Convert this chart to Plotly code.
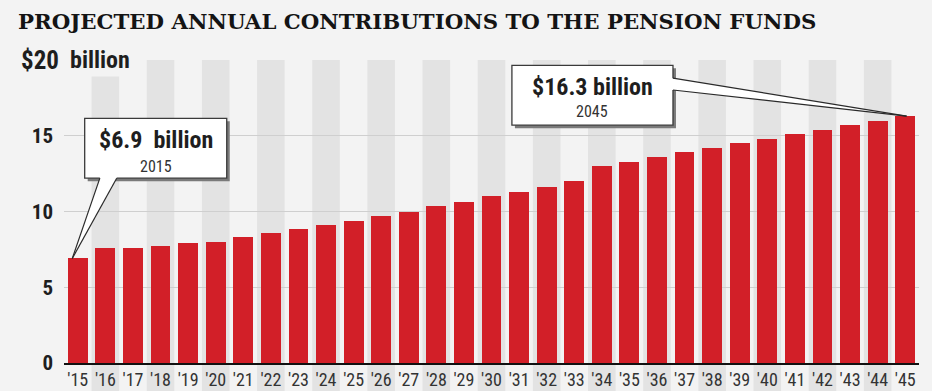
import plotly.graph_objects as go

# ---- data -------------------------------------------------------------
years = list(range(2015, 2046))
contributions = [
    6.9, 7.6, 7.58, 7.75, 7.9, 8.0, 8.3, 8.55, 8.85, 9.1,
    9.4, 9.7, 10.0, 10.35, 10.65, 11.0, 11.3, 11.65, 12.0, 13.0,
    13.3, 13.6, 13.9, 14.2, 14.5, 14.8, 15.1, 15.4, 15.7, 16.0,
    16.3,
]
year_labels = [f"'{y % 100:02d}" for y in years]
y_tick_values = [0, 5, 10, 15, 20]
y_tick_labels = ["0", "5", "10", "15", ""]
title_text = "PROJECTED ANNUAL CONTRIBUTIONS TO THE PENSION FUNDS"

# ---- style --------------------------------------------------------------
PAGE_BG = "#f3f3f3"
STRIPE = "#e3e3e3"
GRID = "#cfcfcf"
BAR_RED = "#d21f28"
INK = "#1e1e1e"
NARROW = ("'Roboto Condensed', 'Noto Sans Condensed', 'Open Sans Condensed', "
          "'Liberation Sans Narrow', 'DejaVu Sans Condensed', sans-serif")
SLAB = "'DejaVu Serif', 'Liberation Serif', serif"

W, H = 932, 391
M = dict(l=64, r=13, t=60, b=28)
x_lo, x_hi = years[0] - 0.5, years[-1] + 0.5
y_lo, y_hi = 0, 20
plot_w = W - M["l"] - M["r"]
plot_h = H - M["t"] - M["b"]
px_x = (x_hi - x_lo) / plot_w   # data units per pixel, horizontal
px_y = (y_hi - y_lo) / plot_h   # data units per pixel, vertical

fig = go.Figure(
    go.Bar(
        x=years,
        y=contributions,
        width=0.72,
        marker=dict(color=BAR_RED, line=dict(width=0)),
        hoverinfo="skip",
    )
)

shapes = []

# alternating grey column bands, running down behind the year labels
for i, yr in enumerate(years):
    if i % 2 == 1:
        shapes.append(dict(
            type="rect", xref="paper", yref="paper",
            x0=(yr - 0.5 - x_lo) / (x_hi - x_lo),
            x1=(yr + 0.5 - x_lo) / (x_hi - x_lo),
            y0=-M["b"] / plot_h, y1=1,
            fillcolor=STRIPE, line=dict(width=0), layer="below",
        ))


def callout(box, base_a, base_b, tip, inward):
    """White label box with drop shadow and a pointer to a bar."""
    x0, x1, y0, y1 = box
    sx, sy = 3 * px_x, 3 * px_y
    out = [
        dict(type="rect", xref="x", yref="y",
             x0=x0 + sx, x1=x1 + sx, y0=y0 - sy, y1=y1 - sy,
             fillcolor="#7a7a7a", line=dict(width=0), layer="above"),
        dict(type="rect", xref="x", yref="y",
             x0=x0, x1=x1, y0=y0, y1=y1,
             fillcolor="white", line=dict(color="#3a3a3a", width=1.3),
             layer="above"),
    ]
    ia = (base_a[0] + inward[0], base_a[1] + inward[1])
    ib = (base_b[0] + inward[0], base_b[1] + inward[1])
    out.append(dict(
        type="path", xref="x", yref="y", layer="above",
        path=f"M{ia[0]},{ia[1]} L{base_a[0]},{base_a[1]} L{tip[0]},{tip[1]} "
             f"L{base_b[0]},{base_b[1]} L{ib[0]},{ib[1]} Z",
        fillcolor="white", line=dict(width=0),
    ))
    for b in (base_a, base_b):
        out.append(dict(
            type="line", xref="x", yref="y", layer="above",
            x0=b[0], y0=b[1], x1=tip[0], y1=tip[1],
            line=dict(color="#2a2a2a", width=1.2),
        ))
    return out


# first-year callout, pointing down to the first bar
box1 = (2015.25, 2020.40, 12.2, 16.15)
shapes += callout(
    box1,
    base_a=(2015.80, box1[2]), base_b=(2016.41, box1[2]),
    tip=(years[0] - 0.2, contributions[0]),
    inward=(0, 4 * px_y),
)

# last-year callout, pointing right to the last bar
box2 = (2030.74, 2036.58, 15.7, 19.65)
shapes += callout(
    box2,
    base_a=(box2[1], 18.8), base_b=(box2[1], 18.02),
    tip=(years[-1] + 0.05, contributions[-1]),
    inward=(-4 * px_x, 0),
)

annotations = [
    # y-axis unit heading
    dict(xref="paper", yref="y", x=0, y=20, xanchor="right", xshift=-3,
         text="<b>$20</b>", showarrow=False,
         font=dict(family=NARROW, size=25, color=INK)),
    dict(xref="paper", yref="y", x=0, y=20, xanchor="left", xshift=3,
         text="<b>billion</b>", showarrow=False, bgcolor=PAGE_BG, borderpad=2,
         font=dict(family=NARROW, size=24, color=INK)),
    # callout texts
    dict(xref="x", yref="y", x=(box1[0] + box1[1]) / 2, y=14.72,
         text=f"<b>${contributions[0]:.1f}&nbsp; billion</b>", showarrow=False,
         font=dict(family=NARROW, size=24, color=INK)),
    dict(xref="x", yref="y", x=(box1[0] + box1[1]) / 2, y=12.97,
         text=str(years[0]), showarrow=False,
         font=dict(family=NARROW, size=16, color="#333333")),
    dict(xref="x", yref="y", x=(box2[0] + box2[1]) / 2, y=18.25,
         text=f"<b>${contributions[-1]:.1f} billion</b>", showarrow=False,
         font=dict(family=NARROW, size=24, color=INK)),
    dict(xref="x", yref="y", x=(box2[0] + box2[1]) / 2, y=16.6,
         text=str(years[-1]), showarrow=False,
         font=dict(family=NARROW, size=16, color="#333333")),
]

fig.update_layout(
    width=W, height=H,
    margin=dict(l=M["l"], r=M["r"], t=M["t"], b=M["b"], pad=0,
                autoexpand=False),
    paper_bgcolor=PAGE_BG,
    plot_bgcolor=PAGE_BG,
    showlegend=False,
    bargap=0,
    title=dict(
        text=f"<b>{title_text}</b>",
        xref="container", x=18 / W, xanchor="left",
        yref="container", y=1 - 22 / H, yanchor="middle",
        font=dict(family=SLAB, size=21.3, color="#141414"),
    ),
    xaxis=dict(
        range=[x_lo, x_hi],
        tickmode="array", tickvals=years, ticktext=year_labels,
        tickfont=dict(family=NARROW, size=18, color="#333333"),
        showgrid=False, zeroline=False,
        showline=True, linecolor="#111111", linewidth=2,
        ticks="", ticklabelstandoff=-1, automargin=False, fixedrange=True,
    ),
    yaxis=dict(
        range=[y_lo, y_hi],
        tickmode="array", tickvals=y_tick_values, ticktext=y_tick_labels,
        tickfont=dict(family=NARROW, size=21, color=INK, weight="bold"),
        showgrid=True, gridcolor=GRID, gridwidth=1,
        zeroline=False, showline=False, ticks="",
        ticklabelstandoff=10, automargin=False, fixedrange=True,
    ),
    shapes=shapes,
    annotations=annotations,
)

fig.write_html("out.html")
